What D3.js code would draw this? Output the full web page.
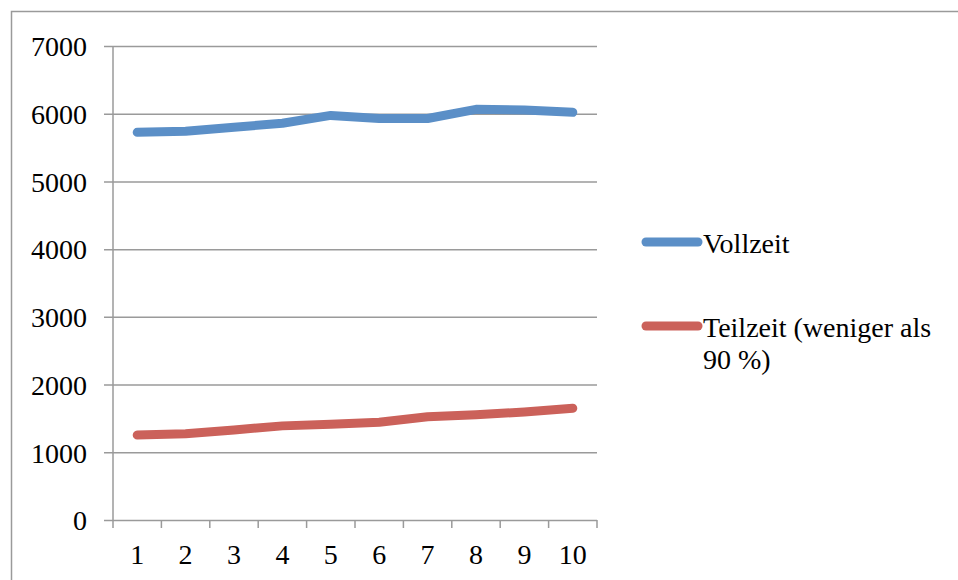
<!DOCTYPE html>
<html>
<head>
<meta charset="utf-8">
<script src="https://cdn.jsdelivr.net/npm/d3@7"></script>
<style>
  html, body { margin: 0; padding: 0; background: #fff; }
  svg { display: block; }
  text { font-family: "Liberation Serif", "DejaVu Serif", serif; fill: #000; }
</style>
</head>
<body>
<svg id="chart" width="958" height="580"></svg>
<script>
const categories = ["1", "2", "3", "4", "5", "6", "7", "8", "9", "10"];
const vollzeit = [5725, 5740, 5800, 5860, 5975, 5930, 5930, 6065, 6055, 6020];
const teilzeit = [1255, 1275, 1330, 1390, 1415, 1445, 1525, 1555, 1595, 1650];
const yTicks = [0, 1000, 2000, 3000, 4000, 5000, 6000, 7000];
const seriesNames = ["Vollzeit", "Teilzeit (weniger als 90 %)"];
const seriesColors = ["#5B8FC7", "#CB615A"];

const svg = d3.select("#chart");
const mLeft = 113, mRight = 597, mTop = 46, mBottom = 520;
const fs = "28px";

// outer frame
svg.append("rect").attr("x", 11.5).attr("y", 11.5).attr("width", 960).attr("height", 600)
  .attr("fill", "none").attr("stroke", "#9a9a9a").attr("stroke-width", 1.5);

const x = d3.scaleBand().domain(categories).range([mLeft, mRight]).paddingInner(0).paddingOuter(0);
const y = d3.scaleLinear().domain([0, 7000]).range([mBottom, mTop]);

// gridlines + y ticks
const yAxis = d3.axisLeft(y).tickValues(yTicks).tickFormat(d3.format("d"))
  .tickSize(-(mRight - mLeft)).tickSizeOuter(0).tickPadding(26);
const gy = svg.append("g").attr("transform", `translate(${mLeft},0)`).call(yAxis);
gy.select(".domain").remove();
gy.selectAll(".tick line").attr("x1", -9).attr("x2", mRight - mLeft).attr("stroke", "#9a9a9a").attr("stroke-width", 1.5);
gy.selectAll(".tick text").style("font-size", fs).attr("dy", "0.35em");

// y axis line
svg.append("line").attr("x1", mLeft).attr("x2", mLeft).attr("y1", mTop).attr("y2", mBottom)
  .attr("stroke", "#9a9a9a").attr("stroke-width", 1.5);

// x axis labels
const xAxis = d3.axisBottom(x).tickSize(0).tickPadding(24);
const gx = svg.append("g").attr("transform", `translate(0,${mBottom})`).call(xAxis);
gx.select(".domain").remove();
gx.selectAll(".tick text").style("font-size", fs);

// x ticks at band edges
const edges = categories.map(c => x(c)).concat([x.range()[1]]);
svg.append("g").selectAll("line").data(edges).join("line")
  .attr("x1", d => d).attr("x2", d => d).attr("y1", mBottom).attr("y2", mBottom + 8)
  .attr("stroke", "#9a9a9a").attr("stroke-width", 1.5);

// lines
const line = d3.line()
  .x((d, i) => x(categories[i]) + x.bandwidth() / 2)
  .y(d => y(d));

[vollzeit, teilzeit].forEach((s, k) => {
  svg.append("path").datum(s).attr("d", line)
    .attr("fill", "none").attr("stroke", seriesColors[k]).attr("stroke-width", 9)
    .attr("stroke-linecap", "round").attr("stroke-linejoin", "round");
});

// legend
const lg = svg.append("g");
const legendY = [242, 326];
[0, 1].forEach(k => {
  lg.append("line").attr("x1", 646).attr("x2", 698).attr("y1", legendY[k]).attr("y2", legendY[k])
    .attr("stroke", seriesColors[k]).attr("stroke-width", 9).attr("stroke-linecap", "round");
});
lg.append("text").attr("x", 703).attr("y", 253).style("font-size", fs).text(seriesNames[0]);
const t2 = lg.append("text").attr("x", 703).attr("y", 337).style("font-size", fs);
t2.append("tspan").attr("x", 703).text("Teilzeit (weniger als");
t2.append("tspan").attr("x", 703).attr("dy", 31.5).text("90 %)");
</script>
</body>
</html>
